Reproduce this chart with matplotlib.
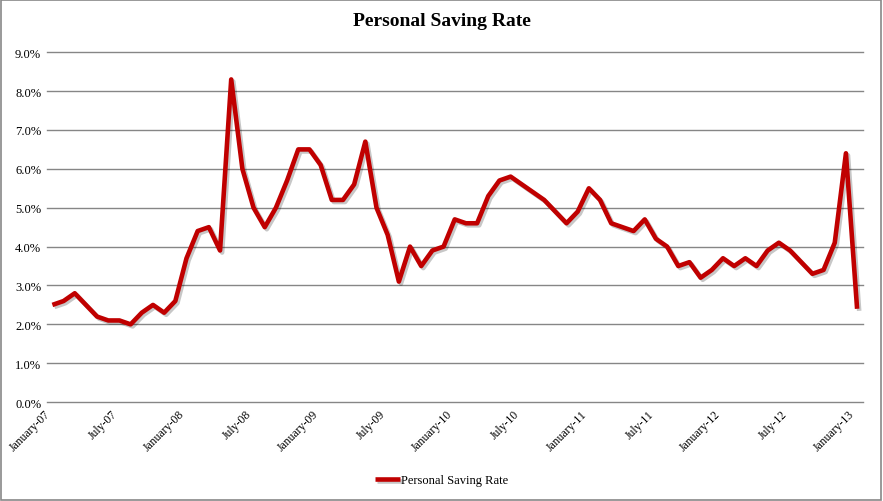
import matplotlib.pyplot as plt
import matplotlib.patheffects as pe
import matplotlib.transforms as mtransforms
from matplotlib.patches import Rectangle

# monthly personal saving rate, Jan 2007 .. Jan 2013 (percent)
rate_2007 = [2.5, 2.6, 2.8, 2.5, 2.2, 2.1, 2.1, 2.0, 2.3, 2.5, 2.3, 2.6]
rate_2008 = [3.7, 4.4, 4.5, 3.9, 8.3, 6.0, 5.0, 4.5, 5.0, 5.7, 6.5, 6.5]
rate_2009 = [6.1, 5.2, 5.2, 5.6, 6.7, 5.0, 4.3, 3.1, 4.0, 3.5, 3.9, 4.0]
rate_2010 = [4.7, 4.6, 4.6, 5.3, 5.7, 5.8, 5.6, 5.4, 5.2, 4.9, 4.6, 4.9]
rate_2011 = [5.5, 5.2, 4.6, 4.5, 4.4, 4.7, 4.2, 4.0, 3.5, 3.6, 3.2, 3.4]
rate_2012 = [3.7, 3.5, 3.7, 3.5, 3.9, 4.1, 3.9, 3.6, 3.3, 3.4, 4.1, 6.4]
rate_2013 = [2.4]
rates = rate_2007 + rate_2008 + rate_2009 + rate_2010 + rate_2011 + rate_2012 + rate_2013

tick_labels = ['January-07', 'July-07', 'January-08', 'July-08', 'January-09', 'July-09',
               'January-10', 'July-10', 'January-11', 'July-11', 'January-12', 'July-12',
               'January-13']

serif = 'Liberation Serif'

fig = plt.figure(figsize=(8.83, 5.02), dpi=100)
ax = fig.add_axes([0.053, 0.197, 0.924, 0.697])

x = list(range(len(rates)))
ax.plot(x, rates, color='#C00000', lw=3.3, solid_joinstyle='round', solid_capstyle='butt',
        label='Personal Saving Rate', zorder=3,
        path_effects=[pe.SimpleLineShadow(offset=(1.5, -1.5), shadow_color='#000000', alpha=0.22),
                      pe.Normal()])

ax.set_xlim(-0.5, len(rates) - 0.5)
ax.set_ylim(0, 9)
ax.set_yticks([i for i in range(10)])
ax.set_yticklabels(['%.1f%%' % i for i in range(10)], fontfamily=serif, fontsize=9)
ax.set_xticks(x[::6])
ax.set_xticklabels(tick_labels, rotation=45, ha='right', fontfamily=serif, fontsize=8.5)
shift = mtransforms.ScaledTranslation(-5 / 100, -3 / 100, fig.dpi_scale_trans)
for lbl in ax.get_xticklabels():
    lbl.set_transform(lbl.get_transform() + shift)

ax.grid(axis='y', color='#868686', lw=1)
for gl in ax.yaxis.get_gridlines():
    gl.set_clip_on(False)
ax.set_axisbelow(True)
ax.tick_params(length=0, pad=4)
for s in ax.spines.values():
    s.set_visible(False)

fig.suptitle('Personal Saving Rate', fontfamily=serif, fontweight='bold', fontsize=14, y=0.975)

leg = fig.legend(loc='center', bbox_to_anchor=(0.5, 0.042), frameon=False,
                 prop={'family': serif, 'size': 9}, handlelength=2.0, handletextpad=0.1)

fig.patches.append(Rectangle((0.001, 0.001), 0.997, 0.997, transform=fig.transFigure,
                             fill=False, edgecolor='#888888', lw=1.2))

fig.savefig('out.png', dpi=100)
